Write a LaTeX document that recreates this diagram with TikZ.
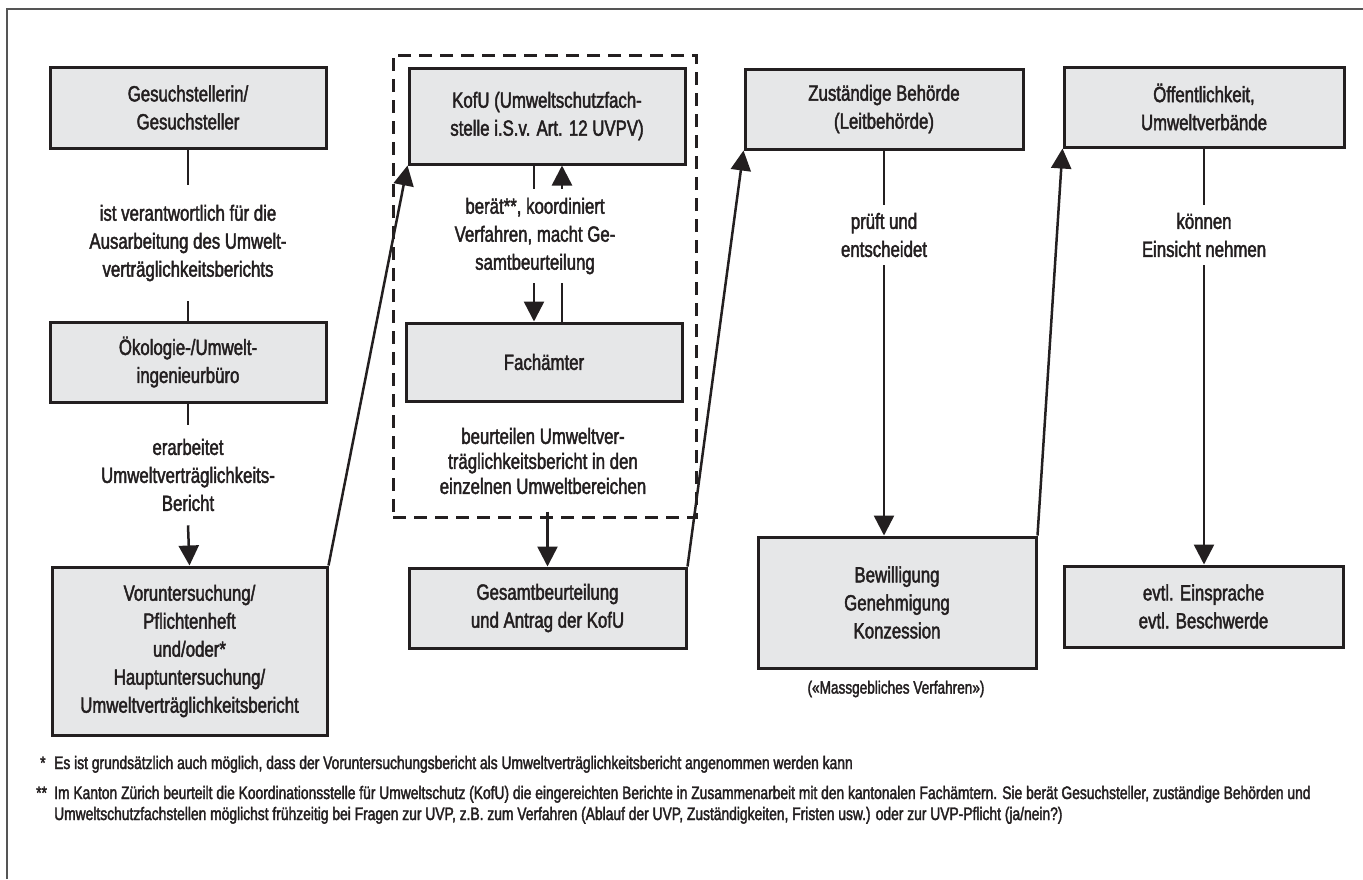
\documentclass[tikz,border=0pt]{standalone}
\usepackage{fontspec}
\setmainfont{Liberation Sans}[FakeStretch=0.764, FakeBold=2]
\usetikzlibrary{arrows.meta}
\definecolor{ink}{HTML}{231F20}
\definecolor{boxfill}{HTML}{E6E7E8}
\definecolor{frame}{HTML}{555555}
\begin{document}
\begin{tikzpicture}[x=1pt,y=-1pt,
  every node/.style={text=ink},
  stepbox/.style={draw=ink, fill=boxfill, line width=3pt, align=center, inner sep=0pt,
    font=\fontsize{22}{28}\selectfont},
  lbl/.style={align=center, font=\fontsize{22}{28}\selectfont, inner xsep=2pt},
  conn/.style={draw=ink, line width=2.5pt},
  arr/.style={conn, -{Triangle[width=20pt,length=20pt]}},
  grpbox/.style={draw=ink, line width=3pt, dash pattern=on 13pt off 8pt},
  fnote/.style={font=\fontsize{18.1}{21}\selectfont, inner sep=0pt, align=left}
]
\useasboundingbox (0,0) rectangle (1363,879);
% frame
\draw[frame, line width=1.5pt] (7,879) -- (7,9) -- (1363,9);

% dashed group
\node[grpbox, minimum width=303pt, minimum height=462pt] (grp) at (544.5,286) {};

% boxes
\node[stepbox, minimum width=276pt, minimum height=81pt] (ges) at (188,107.5) {Gesuchstellerin/\\Gesuchsteller};
\node[stepbox, minimum width=276pt, minimum height=80pt] (oeko) at (188,362) {Ökologie-/Umwelt-\\ingenieurbüro};
\node[stepbox, minimum width=275pt, minimum height=168pt] (vor) at (189.5,651) {Voruntersuchung/\\Pflichtenheft\\und/oder*\\Hauptuntersuchung/\\Umweltverträglichkeitsbericht};
\node[stepbox, minimum width=276pt, minimum height=96pt] (kofu) at (547,116) {KofU (Umweltschutzfach-\\stelle i.S.v. Art. 12 UVPV)};
\node[stepbox, minimum width=276pt, minimum height=78pt] (fach) at (544,362) {Fachämter};
\node[stepbox, minimum width=277pt, minimum height=80pt] (gesamt) at (547.5,608) {Gesamtbeurteilung\\und Antrag der KofU};
\node[stepbox, minimum width=278pt, minimum height=80pt] (zust) at (884,109) {Zuständige Behörde\\(Leitbehörde)};
\node[stepbox, minimum width=278pt, minimum height=131pt] (bew) at (897,602.5) {Bewilligung\\Genehmigung\\Konzession};
\node[stepbox, minimum width=280pt, minimum height=80pt] (oeff) at (1204,107) {Öffentlichkeit,\\Umweltverbände};
\node[stepbox, minimum width=279pt, minimum height=81pt] (einspr) at (1203.5,606.5) {evtl. Einsprache\\evtl. Beschwerde};

% labels
\node[lbl, inner ysep=20pt] (lges) at (188,243) {ist verantwortlich für die\\Ausarbeitung des Umwelt-\\verträglichkeitsberichts};
\node[lbl, inner ysep=14pt] (loeko) at (188,475) {erarbeitet\\Umweltverträglichkeits-\\Bericht};
\node[lbl, inner ysep=9pt] (lkofu) at (535,236) {berät**, koordiniert\\Verfahren, macht Ge-\\samtbeurteilung};
\node[lbl, font=\fontsize{22}{25}\selectfont] (lfach) at (543,461) {beurteilen Umweltver-\\träglichkeitsbericht in den\\einzelnen Umweltbereichen};
\node[lbl, inner ysep=8pt] (lzust) at (884,235) {prüft und\\entscheidet};
\node[lbl, inner ysep=8pt] (loeff) at (1204,235) {können\\Einsicht nehmen};
\node[font=\fontsize{17.8}{20}\selectfont, inner sep=0pt] (massg) at (896,689) {(«Massgebliches Verfahren»)};

% connectors column 1
\draw[conn] (ges.south) -- (lges.north);
\draw[conn] (lges.south) -- (oeko.north);
\draw[conn] (oeko.south) -- (loeko.north);
\draw[arr] (loeko.south) -- (vor.north);
\draw[arr] (vor.north east) -- (kofu.south west);

% connectors column 2
\draw[conn] ([xshift=-13pt]kofu.south) -- ([xshift=-13pt]kofu.south |- lkofu.north);
\draw[arr] ([xshift=-13pt]kofu.south |- lkofu.south) -- ([xshift=-13pt]kofu.south |- fach.north);
\draw[conn] ([xshift=15pt]kofu.south |- fach.north) -- ([xshift=15pt]kofu.south |- lkofu.south);
\draw[arr] ([xshift=15pt]kofu.south |- lkofu.north) -- ([xshift=15pt]kofu.south);
\draw[arr] ([yshift=7pt]grp.south -| gesamt.north) -- (gesamt.north);
\draw[arr] (gesamt.north east) -- (zust.south west);

% connectors column 3
\draw[conn] (zust.south) -- (lzust.north);
\draw[arr] (lzust.south) -- (lzust.south |- bew.north);
\draw[arr] (bew.north east) -- (oeff.south west);

% connectors column 4
\draw[conn] (oeff.south) -- (loeff.north);
\draw[arr] (loeff.south) -- (loeff.south |- einspr.north);

% footnotes
\node[fnote, anchor=base west] (fn1m) at (40,769) {*};
\node[fnote, anchor=base west] (fn1) at (54,769) {Es ist grundsätzlich auch möglich, dass der Voruntersuchungsbericht als Umweltverträglichkeitsbericht angenommen werden kann};
\node[fnote, anchor=base west] (fn2m) at (36,799) {**};
\node[fnote, anchor=base west] (fn2) at (54,799) {Im Kanton Zürich beurteilt die Koordinationsstelle für Umweltschutz (KofU) die eingereichten Berichte in Zusammenarbeit mit den kantonalen Fachämtern. Sie berät Gesuchsteller, zuständige Behörden und};
\node[fnote, anchor=base west] (fn3) at (54,820) {Umweltschutzfachstellen möglichst frühzeitig bei Fragen zur UVP, z.B. zum Verfahren (Ablauf der UVP, Zuständigkeiten, Fristen usw.) oder zur UVP-Pflicht (ja/nein?)};
\end{tikzpicture}
\end{document}
